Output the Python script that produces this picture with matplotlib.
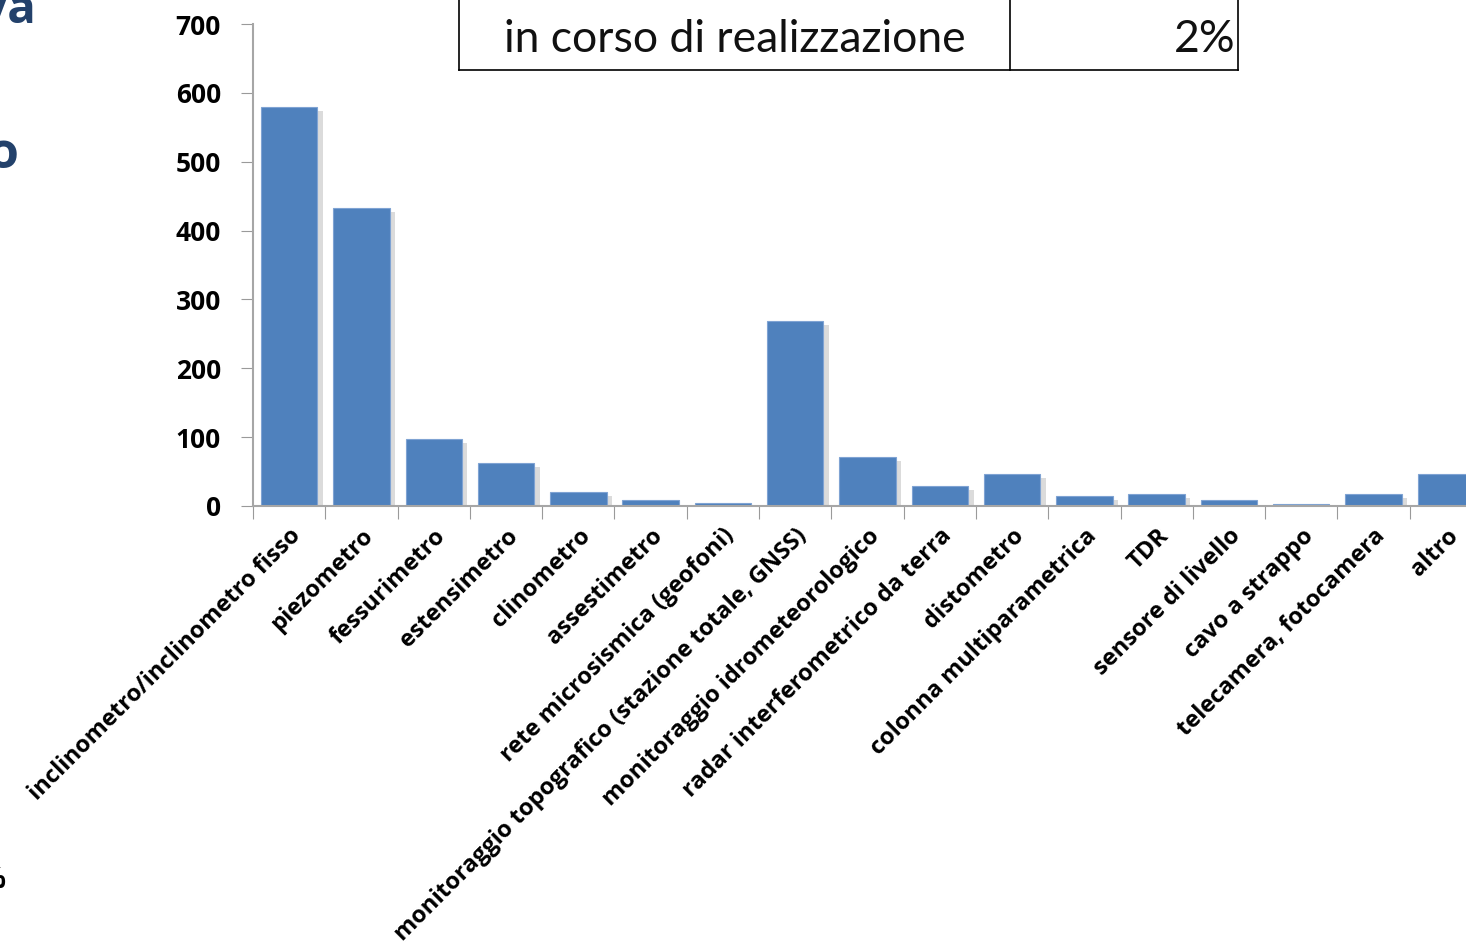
import matplotlib.pyplot as plt
import matplotlib.patheffects as pe
from matplotlib.lines import Line2D

categories = ['inclinometro/inclinometro fisso', 'piezometro', 'fessurimetro',
              'estensimetro', 'clinometro', 'assestimetro',
              'rete microsismica (geofoni)',
              'monitoraggio topografico (stazione totale, GNSS)',
              'monitoraggio idrometeorologico', 'radar interferometrico da terra',
              'distometro', 'colonna multiparametrica', 'TDR', 'sensore di livello',
              'cavo a strappo', 'telecamera, fotocamera', 'altro']
counts = [579, 433, 98, 62, 20, 8, 5, 269, 71, 29, 47, 15, 17, 8, 3, 18, 47]
yticks = [0, 100, 200, 300, 400, 500, 600, 700]

W, H = 1466, 951
fig = plt.figure(figsize=(W / 100, H / 100), dpi=100)
ax = fig.add_axes([253 / W, 1 - 506 / H, 1229 / W, 482 / H])

x = range(len(categories))
bars = ax.bar(x, counts, width=0.78, color='#4F81BD', edgecolor='#7FA3D3', linewidth=0.8)
for b in bars:
    b.set_path_effects([pe.SimplePatchShadow(offset=(4, -3), shadow_rgbFace='#999999', alpha=0.35),
                        pe.Normal()])

ax.set_xlim(-0.5, len(categories) - 0.5)
ax.set_ylim(0, 700)
ax.set_yticks(yticks)
ax.set_yticklabels([str(v) for v in yticks], fontfamily='Open Sans', fontweight='bold', fontsize=19)

ax.set_xticks([i + 0.5 for i in range(-1, len(categories))], minor=False)
ax.set_xticklabels([''] * (len(categories) + 1))
ax.set_xticks(list(x), minor=True)
ax.set_xticklabels(categories, minor=True, rotation=45, ha='right', rotation_mode='anchor',
                   fontfamily='Open Sans', fontweight='bold', fontsize=17)
ax.tick_params(axis='x', which='minor', length=0, pad=13)
ax.tick_params(axis='x', which='major', length=9, color='#9a9a9a', direction='out')
ax.tick_params(axis='y', length=9, color='#9a9a9a', direction='out', pad=14)

for s in ['top', 'right']:
    ax.spines[s].set_visible(False)
for s in ['left', 'bottom']:
    ax.spines[s].set_color('#a6a6a6')
    ax.spines[s].set_linewidth(1.5)

# table fragment at the top
def fx(px):
    return px / W

def fy(py):
    return 1 - py / H

for xs, ys in [([459, 1238], [70, 70]), ([459, 459], [-5, 70]),
               ([1010, 1010], [-5, 70]), ([1238, 1238], [-5, 70])]:
    fig.add_artist(Line2D([fx(v) for v in xs], [fy(v) for v in ys], color='black', linewidth=1.2))
fig.text(fx(735), fy(40), 'in corso di realizzazione', ha='center', va='center',
         fontsize=32, fontfamily='Lato', color='#111111')
fig.text(fx(1236), fy(40), '2%', ha='right', va='center',
         fontsize=32, fontfamily='Lato', color='#111111')

# cut-off slide text on the left edge
fig.text(fx(36), fy(23), 'iva', ha='right', va='baseline', fontsize=34,
         fontfamily='Open Sans', fontweight='bold', color='#23416B')
fig.text(fx(19), fy(168), 'o', ha='right', va='baseline', fontsize=36,
         fontfamily='Open Sans', fontweight='bold', color='#23416B')
fig.text(fx(5), fy(888), '%', ha='right', va='baseline', fontsize=20,
         fontfamily='Open Sans', fontweight='bold', color='black')

fig.savefig('out.png', dpi=100)
